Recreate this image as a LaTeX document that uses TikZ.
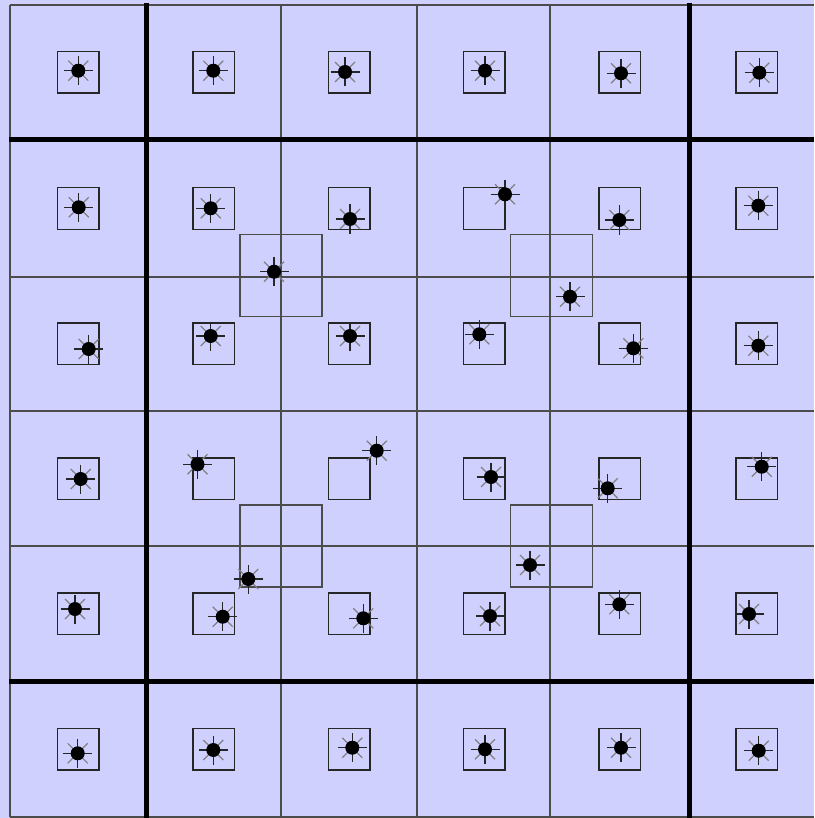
\documentclass[tikz,border=0pt]{standalone}
\definecolor{bg}{RGB}{208,208,255}
\begin{document}
\begin{tikzpicture}[x=1pt,y=-1pt,
  thingrid/.style={draw=black!70, line width=1.5pt},
  thickgrid/.style={draw=black, line width=5pt},
  box/.style={draw=black!85, line width=1.5pt},
  sun/.pic={
    \draw[black!50, line width=1.2pt] (-10,-10)--(10,10) (-10,10)--(10,-10);
    \draw[black!85, line width=1.4pt] (-14.5,0)--(14.5,0) (0,-14.5)--(0,14.5);
    \fill[black] (0,0) circle (7);
  }]
\useasboundingbox (0,0) rectangle (814,818);
\fill[bg] (0,0) rectangle (814,818);
% thin grid lines
\foreach \x in {10,281,417,550}
  \draw[thingrid] (\x,5) -- (\x,817);
\foreach \y in {5,277,411,546,817}
  \draw[thingrid] (10,\y) -- (814,\y);
% small squares
\foreach \cx in {78,213.5,349,484,619.5,756.5}
  \foreach \cy in {72.5,208.5,343.5,478.5,613.5,749}
    \draw[box] (\cx-20.75,\cy-20.75) rectangle (\cx+20.75,\cy+20.75);
% large squares
\foreach \cx/\cy in {281/275.5,551.5/275.5,281/546,551.5/546}
  \draw[box, draw=black!70] (\cx-41,\cy-41) rectangle (\cx+41,\cy+41);
% thick lines
\foreach \x in {146,689}
  \draw[thickgrid] (\x,3) -- (\x,818);
\foreach \y in {140,681}
  \draw[thickgrid] (9,\y) -- (814,\y);
% markers
\foreach \mx/\my [count=\i] in {
  78.3/70.7, 213.3/70.7, 345/72, 485/70.7, 621/73.3, 759.3/72.7,
  78.7/207.3, 210.7/208.3, 350/219, 505/194.3, 619.3/220, 758.3/205.7,
  88.7/349, 210.7/336, 350/336, 479.3/334.3, 633.3/348.3, 758.3/345.7,
  80.7/479, 197.5/464.3, 376.7/450.7, 491/477, 607.7/488.3, 761.7/466.7,
  75/609, 222.7/616.7, 363.3/618.3, 490/616, 619.3/604.3, 749/614,
  77.7/753.3, 213.3/750, 352.3/747.7, 485/749.3, 621/747.7, 758.7/750.7,
  274/271.7, 570/296.7, 248.3/579, 530/565}
  \pic (m\i) at (\mx,\my) {sun};
\end{tikzpicture}
\end{document}
